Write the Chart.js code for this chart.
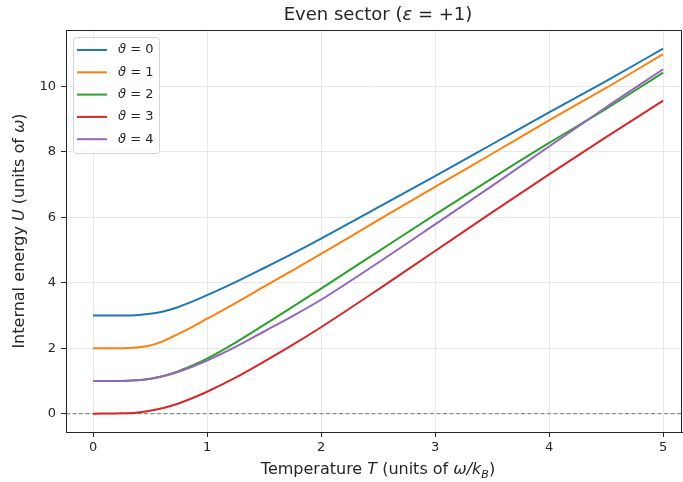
<!DOCTYPE html>
<html>
<head>
<meta charset="utf-8">
<style>
  html, body { margin: 0; padding: 0; background: #fff; }
  #wrap { width: 683px; height: 482px; }
</style>
<script src="https://cdn.jsdelivr.net/npm/chart.js@4/dist/chart.umd.min.js"></script>
</head>
<body>
<div id="wrap"><canvas id="chart" width="683" height="482"></canvas></div>
<script>
// temperatures (units of omega/k_B) and internal energy for each theta
const temps = [0, 0.25, 0.375, 0.5, 0.625, 0.75, 0.875, 1, 1.25, 1.5, 1.75, 2, 2.5, 3, 3.5, 4, 4.5, 5];
const thetas = [0, 1, 2, 3, 4];
const energyTheta0 = [3.00, 3.00, 3.01, 3.05, 3.13, 3.26, 3.43, 3.62, 4.02, 4.45, 4.89, 5.35, 6.30, 7.26, 8.23, 9.20, 10.16, 11.15];
const energyTheta1 = [2.00, 2.00, 2.02, 2.08, 2.23, 2.44, 2.66, 2.90, 3.38, 3.88, 4.38, 4.88, 5.91, 6.93, 7.94, 8.96, 9.95, 10.98];
const energyTheta2 = [1.00, 1.00, 1.02, 1.07, 1.16, 1.30, 1.48, 1.68, 2.17, 2.71, 3.26, 3.82, 4.95, 6.08, 7.19, 8.27, 9.31, 10.42];
const energyTheta3 = [0.00, 0.01, 0.03, 0.09, 0.18, 0.31, 0.48, 0.67, 1.10, 1.59, 2.10, 2.64, 3.79, 4.97, 6.15, 7.31, 8.45, 9.56];
const energyTheta4 = [1.00, 1.00, 1.02, 1.06, 1.15, 1.28, 1.44, 1.62, 2.04, 2.51, 2.98, 3.48, 4.61, 5.78, 6.96, 8.16, 9.36, 10.52];
const xTicks = [0, 1, 2, 3, 4, 5];
const yTicks = [0, 2, 4, 6, 8, 10];
const xRange = [-0.237, 5.166];
const yRange = [-0.56, 11.72];

const colors = ['#1f77b4', '#ff7f0e', '#2ca02c', '#d62728', '#9467bd'];
const series = [energyTheta0, energyTheta1, energyTheta2, energyTheta3, energyTheta4];
const FONT = '"DejaVu Sans", sans-serif';
const INK = '#262626';

// draws a run of text pieces (normal / italic / subscript) centred on x,y
function drawRich(ctx, segs, x, y, size, rotate) {
  const fontOf = s => (s.i ? 'italic ' : '') + (s.sub ? Math.round(size * 0.7) : size) + 'px ' + FONT;
  let total = 0;
  segs.forEach(s => { ctx.font = fontOf(s); s.w = ctx.measureText(s.t).width; total += s.w; });
  ctx.save();
  ctx.translate(x, y);
  if (rotate) ctx.rotate(-Math.PI / 2);
  ctx.fillStyle = INK;
  ctx.textBaseline = 'middle';
  ctx.textAlign = 'left';
  let cx = -total / 2;
  segs.forEach(s => {
    ctx.font = fontOf(s);
    ctx.fillText(s.t, cx, s.sub ? size * 0.3 : 0);
    cx += s.w;
  });
  ctx.restore();
}

const decorations = {
  id: 'decorations',
  beforeDatasetsDraw(chart) {
    const { ctx, chartArea, scales } = chart;
    const y0 = scales.y.getPixelForValue(0);
    ctx.save();
    ctx.strokeStyle = 'rgba(110,110,110,0.75)';
    ctx.lineWidth = 1.2;
    ctx.setLineDash([4, 2.5]);
    ctx.beginPath();
    ctx.moveTo(chartArea.left, y0);
    ctx.lineTo(chartArea.right, y0);
    ctx.stroke();
    ctx.restore();
  },
  afterDraw(chart) {
    const { ctx, chartArea } = chart;
    ctx.save();
    ctx.strokeStyle = INK;
    ctx.lineWidth = 1;
    ctx.strokeRect(chartArea.left + 0.5, chartArea.top + 0.5, chartArea.right - chartArea.left - 1, chartArea.bottom - chartArea.top);
    ctx.restore();

    const midX = (chartArea.left + chartArea.right) / 2;
    const midY = (chartArea.top + chartArea.bottom) / 2;
    drawRich(ctx, [{ t: 'Even sector (' }, { t: 'ε', i: true }, { t: ' = +1)' }], midX + 4, 15, 18);
    drawRich(ctx, [{ t: 'Temperature ' }, { t: 'T', i: true }, { t: ' (units of ' }, { t: 'ω/k', i: true }, { t: 'B', i: true, sub: true }, { t: ')' }], midX + 4, 470, 16);
    drawRich(ctx, [{ t: 'Internal energy ' }, { t: 'U', i: true }, { t: ' (units of ' }, { t: 'ω', i: true }, { t: ')' }], 20, midY, 16, true);

    // legend box, upper left
    const lx = chartArea.left + 7, ly = chartArea.top + 7, lw = 86, lh = 116;
    ctx.save();
    ctx.beginPath();
    ctx.roundRect(lx + 0.5, ly + 0.5, lw, lh, 3);
    ctx.fillStyle = 'rgba(255,255,255,0.8)';
    ctx.fill();
    ctx.strokeStyle = '#d5d5d5';
    ctx.lineWidth = 1;
    ctx.stroke();
    chart.data.datasets.forEach((ds, i) => {
      const ry = ly + 13 + i * 22.3;
      ctx.strokeStyle = ds.borderColor;
      ctx.lineWidth = 2;
      ctx.beginPath();
      ctx.moveTo(lx + 4, ry);
      ctx.lineTo(lx + 34, ry);
      ctx.stroke();
      ctx.fillStyle = INK;
      ctx.textBaseline = 'middle';
      ctx.textAlign = 'left';
      ctx.font = 'italic 13px ' + FONT;
      ctx.fillText('ϑ', lx + 45, ry);
      const w = ctx.measureText('ϑ').width;
      ctx.font = '13px ' + FONT;
      ctx.fillText(' = ' + thetas[i], lx + 45 + w, ry);
    });
    ctx.restore();
  }
};

const datasets = series.map((vals, i) => ({
  label: 'ϑ = ' + thetas[i],
  data: temps.map((t, k) => ({ x: t, y: vals[k] })),
  borderColor: colors[i],
  backgroundColor: colors[i],
  borderWidth: 2,
  pointRadius: 0,
  cubicInterpolationMode: 'monotone',
  order: series.length - i
}));

new Chart(document.getElementById('chart').getContext('2d'), {
  type: 'line',
  data: { datasets },
  options: {
    responsive: false,
    animation: false,
    layout: { padding: { top: 30, right: 1, left: 0, bottom: 0 } },
    plugins: { legend: { display: false }, tooltip: { enabled: false }, title: { display: false } },
    scales: {
      x: {
        type: 'linear',
        min: xRange[0],
        max: xRange[1],
        afterBuildTicks: s => { s.ticks = xTicks.map(v => ({ value: v })); },
        afterFit: s => { s.height = 50; },
        ticks: { color: INK, font: { family: FONT, size: 13 }, padding: 3, callback: v => String(v) },
        grid: { color: '#e8e8e8', tickColor: INK, tickLength: 5, lineWidth: 1 },
        border: { color: INK, width: 1 }
      },
      y: {
        type: 'linear',
        min: yRange[0],
        max: yRange[1],
        afterBuildTicks: s => { s.ticks = yTicks.map(v => ({ value: v })); },
        afterFit: s => { s.width = 66; },
        ticks: { color: INK, font: { family: FONT, size: 13 }, padding: 5, callback: v => String(v) },
        grid: { color: '#e8e8e8', tickColor: INK, tickLength: 5, lineWidth: 1 },
        border: { color: INK, width: 1 }
      }
    }
  },
  plugins: [decorations]
});
</script>
</body>
</html>
